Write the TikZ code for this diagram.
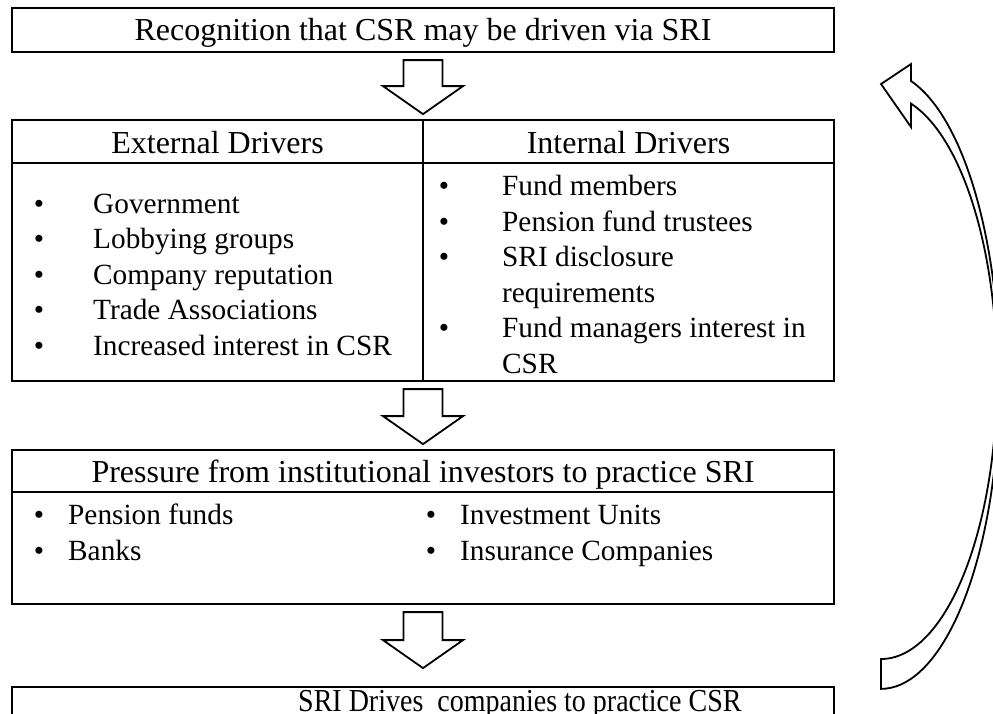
\documentclass[tikz,border=0pt]{standalone}
\usepackage{fontspec}
\setmainfont{Liberation Serif}
\usetikzlibrary{calc}
\begin{document}
\begin{tikzpicture}[x=1pt,y=-1pt,
  box/.style={draw=black, line width=2.2pt, rectangle, inner sep=0pt, minimum width=822pt},
  rule/.style={draw=black, line width=2.2pt},
  txt/.style={anchor=base, inner sep=0pt, font=\fontsize{32}{38}\selectfont},
  item/.style={anchor=base west, inner sep=0pt, font=\fontsize{29.3}{35}\selectfont},
  dot/.style={anchor=base, inner sep=0pt, font=\fontsize{29.3}{35}\selectfont},
  blockarrow/.style={draw=black, line width=1.8pt, fill=white, line join=miter},
  pics/blockdown/.style={code={
    \draw[blockarrow] (-19.5,0) -- (19.5,0) -- (19.5,#1-28) -- (40,#1-28)
      -- (0,#1) -- (-40,#1-28) -- (-19.5,#1-28) -- cycle;}}]
\clip (0,0) rectangle (993,713);

% boxes
\node[box, minimum height=44pt]  (top)      at (423,30)    {};
\node[box, minimum height=261pt] (drivers)  at (423,250.5) {};
\node[box, minimum height=154pt] (pressure) at (423,527)   {};
\node[box, minimum height=60pt]  (bottom)   at (423,717)   {};

% inner rules
\coordinate (dhdr) at (0,163);
\coordinate (phdr) at (0,492);
\draw[rule] (drivers.west |- dhdr) -- (drivers.east |- dhdr);
\draw[rule] (drivers.north) -- (drivers.south);
\draw[rule] (pressure.west |- phdr) -- (pressure.east |- phdr);

% downward block arrows between the boxes
\pic at ($(top.south)+(0,7)$) {blockdown=54};
\pic at ($(drivers.south)+(0,7)$) {blockdown=55};
\pic at ($(pressure.south)+(0,7)$) {blockdown=56};

% feedback arrow on the right
\draw[line width=1.8pt, line join=miter]
  (911,81) arc[start angle=-75.3, end angle=90, x radius=118.5, y radius=309]
  -- (881,659)
  arc[start angle=90, end angle=-75, x radius=116, y radius=282.5]
  -- (911,127) -- (881,84) -- (911,64) -- cycle;

% texts
\node[txt] (t1) at (423,40) {Recognition that CSR may be driven via SRI};
\node[txt] (ext) at (217.5,153) {External Drivers};
\node[txt] (int) at (628.5,153) {Internal Drivers};

\node[dot] (eb1) at (39,213) {•}; \node[item] (e1) at (93,213) {Government};
\node[dot] (eb2) at (39,248.5) {•}; \node[item] (e2) at (93,248.5) {Lobbying groups};
\node[dot] (eb3) at (39,284) {•}; \node[item] (e3) at (93,284) {Company reputation};
\node[dot] (eb4) at (39,319.5) {•}; \node[item] (e4) at (93,319.5) {Trade Associations};
\node[dot] (eb5) at (39,355) {•}; \node[item] (e5) at (93,355) {Increased interest in CSR};

\node[dot] (ib1) at (444,195) {•}; \node[item] (i1) at (502,195) {Fund members};
\node[dot] (ib2) at (444,231) {•}; \node[item] (i2) at (502,231) {Pension fund trustees};
\node[dot] (ib3) at (444,266.5) {•}; \node[item] (i3) at (502,266.5) {SRI disclosure};
\node[item] (i3b) at (502,302) {requirements};
\node[dot] (ib4) at (444,337.5) {•}; \node[item] (i4) at (502,337.5) {Fund managers interest in};
\node[item] (i4b) at (502,373) {CSR};

\node[txt] (t2) at (423,482) {Pressure from institutional investors to practice SRI};
\node[dot] (pb1) at (39,524) {•}; \node[item] (p1) at (68,524) {Pension funds};
\node[dot] (pb2) at (39,560) {•}; \node[item] (p2) at (68,560) {Banks};
\node[dot] (pb3) at (431,524) {•}; \node[item] (p3) at (460,524) {Investment Units};
\node[dot] (pb4) at (431,560) {•}; \node[item] (p4) at (460,560) {Insurance Companies};

\node[anchor=base west, inner sep=0pt, font=\fontsize{32}{38}\selectfont] (t3) at (298,711)
  {\scalebox{0.875}[1]{SRI Drives~ companies to practice CSR}};
\end{tikzpicture}
\end{document}
